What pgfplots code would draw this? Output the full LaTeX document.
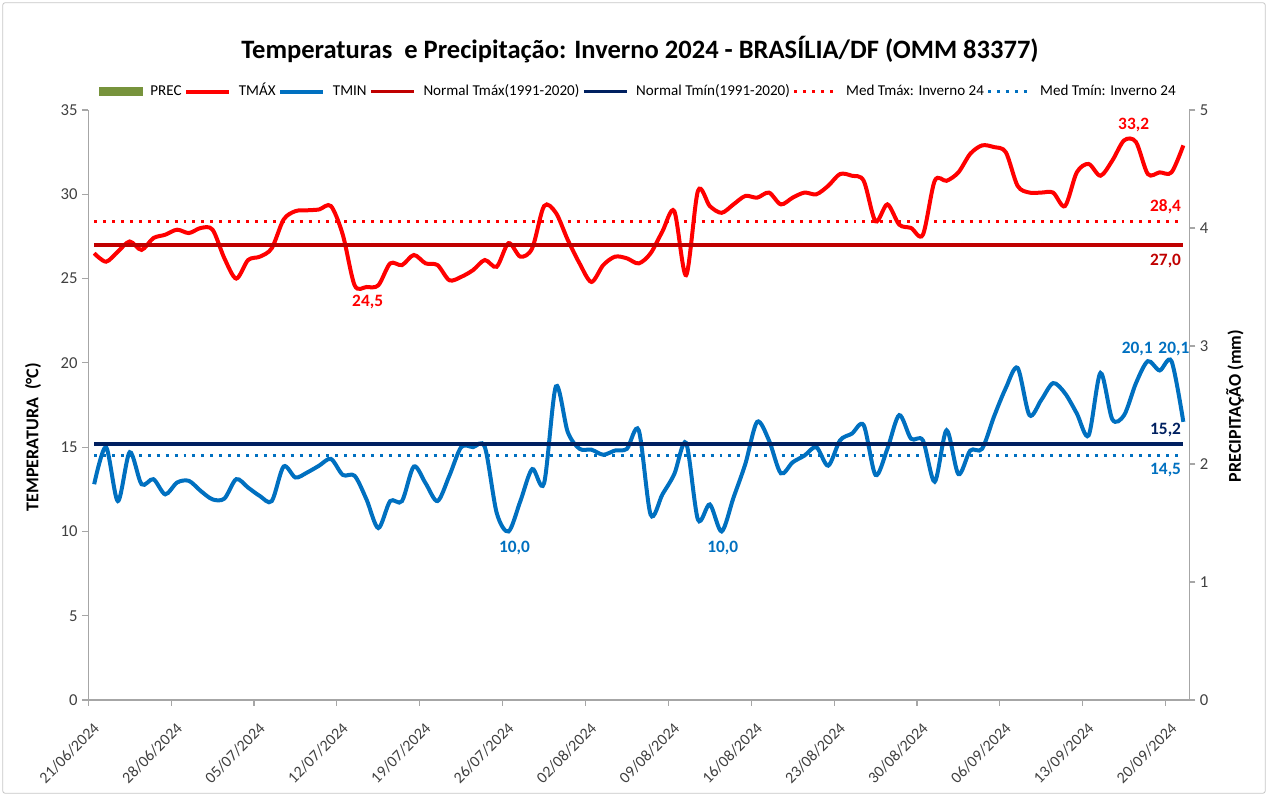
\documentclass[border=0pt]{standalone}
\usepackage{fontspec}
\setmainfont{Carlito}
\usepackage{pgfplots}
\usepackage{pgfplotstable}
\pgfplotsset{compat=1.18}
\definecolor{tmaxc}{HTML}{FF0000}
\definecolor{tminc}{HTML}{0070C0}
\definecolor{ntmax}{HTML}{C00000}
\definecolor{ntmin}{HTML}{002060}
\definecolor{precc}{HTML}{77933C}
\definecolor{axisgray}{HTML}{A6A6A6}
\definecolor{ticktext}{HTML}{404040}
\pgfplotstableread{
d tmax tmin
0 26.5 12.8
1 26.0 15.0
2 26.6 11.8
3 27.2 14.7
4 26.7 12.8
5 27.4 13.1
6 27.6 12.2
7 27.9 12.9
8 27.7 13.0
9 28.0 12.4
10 27.9 11.9
11 26.2 11.95
12 25.0 13.1
13 26.1 12.6
14 26.3 12.1
15 26.8 11.8
16 28.5 13.85
17 29.0 13.2
18 29.05 13.5
19 29.1 13.9
20 29.3 14.3
21 27.6 13.35
22 24.6 13.3
23 24.5 11.9
24 24.6 10.2
25 25.9 11.8
26 25.8 11.8
27 26.4 13.85
28 25.9 12.85
29 25.8 11.8
30 24.9 13.3
31 25.1 15.0
32 25.5 15.0
33 26.1 15.0
34 25.7 11.1
35 27.1 10.0
36 26.3 11.8
37 26.8 13.7
38 29.3 12.85
39 28.9 18.6
40 27.3 15.9
41 25.9 14.9
42 24.8 14.85
43 25.8 14.55
44 26.3 14.8
45 26.2 14.9
46 25.9 16.0
47 26.5 11.0
48 27.8 12.2
49 29.0 13.4
50 25.2 15.25
51 30.2 10.7
52 29.3 11.6
53 28.9 10.0
54 29.4 12.0
55 29.9 14.0
56 29.8 16.5
57 30.1 15.4
58 29.4 13.45
59 29.8 14.1
60 30.1 14.5
61 30.0 15.0
62 30.5 13.9
63 31.2 15.4
64 31.1 15.8
65 30.8 16.3
66 28.4 13.35
67 29.4 14.9
68 28.2 16.9
69 28.0 15.5
70 27.6 15.4
71 30.8 12.95
72 30.8 16.0
73 31.3 13.4
74 32.4 14.8
75 32.9 14.9
76 32.8 16.8
77 32.5 18.5
78 30.5 19.7
79 30.1 16.9
80 30.1 17.8
81 30.1 18.8
82 29.3 18.2
83 31.3 17.0
84 31.8 15.7
85 31.1 19.4
86 32.0 16.65
87 33.2 16.9
88 33.1 18.8
89 31.2 20.1
90 31.3 19.55
91 31.3 20.1
92 32.9 16.5
}\tempdata
\begin{document}
\begin{tikzpicture}
\useasboundingbox (0,0) rectangle (951pt,597pt);
\draw[gray!45, line width=0.6pt, rounded corners=2pt] (2pt,2pt) rectangle (949pt,595pt);
\begin{axis}[
  at={(66.2pt,72pt)}, anchor=south west,
  scale only axis, width=825.75pt, height=442.5pt,
  xmin=0, xmax=93, ymin=0, ymax=35,
  axis x line*=bottom, axis y line*=left,
  axis line style={-, axisgray, line width=0.9pt},
  tick style={axisgray, line width=0.9pt}, tick align=outside, major tick length=4.5pt,
  xtick={0,7,...,91},
  xticklabels={21/06/2024,28/06/2024,05/07/2024,12/07/2024,19/07/2024,26/07/2024,02/08/2024,09/08/2024,16/08/2024,23/08/2024,30/08/2024,06/09/2024,13/09/2024,20/09/2024},
  xticklabel style={xshift=7pt, yshift=-14pt, rotate=45, anchor=east, font=\fontsize{12}{14}\selectfont, text=ticktext, inner sep=1pt},
  ytick={0,5,...,35},
  yticklabel style={font=\fontsize{12.5}{14}\selectfont, text=ticktext},
  /pgf/number format/assume math mode=true,
  legend columns=7,
  legend style={at={(0.5,1.0)}, yshift=13.5pt, anchor=center, draw=none, fill=none,
    font=\fontsize{11.3}{13}\selectfont, inner sep=0pt,
    nodes={text height=8.5pt, text depth=2.5pt, anchor=base},
    /tikz/every even column/.append style={column sep=0pt},
    /tikz/every odd column/.append style={column sep=4pt}},
  legend cell align=left,
  legend image code/.code={\draw[#1, sharp plot] (0pt,3.3pt) -- (32pt,3.3pt);},
]
\addlegendimage{legend image code/.code={\fill[precc] (0pt,0.3pt) rectangle (32pt,6.3pt);}}
\addlegendentry{PREC}
\addplot[tmaxc, line width=3pt, smooth, tension=0.5] table[x expr=\thisrow{d}+0.5, y=tmax] {\tempdata};
\addlegendentry{TMÁX}
\addplot[tminc, line width=3pt, smooth, tension=0.5] table[x expr=\thisrow{d}+0.5, y=tmin] {\tempdata};
\addlegendentry{TMIN}
\addplot[ntmax, line width=2.6pt] coordinates {(0.5,27.0) (92.5,27.0)};
\addlegendentry{Normal Tmáx(1991-2020)}
\addplot[ntmin, line width=2.6pt] coordinates {(0.5,15.2) (92.5,15.2)};
\addlegendentry{Normal Tmín(1991-2020)}
\addplot[tmaxc, line width=2.2pt, dash pattern=on 2.2pt off 4.5pt] coordinates {(0.5,28.4) (92.5,28.4)};
\addlegendentry{Med Tmáx: Inverno 24}
\addplot[tminc, line width=2.2pt, dash pattern=on 2.2pt off 4.5pt] coordinates {(0.5,14.5) (92.5,14.5)};
\addlegendentry{Med Tmín: Inverno 24}
\begin{scope}[every node/.style={font=\bfseries\fontsize{13}{15}\selectfont}]
\node[text=tmaxc] at (axis cs:23.6,23.6) {24,5};
\node[text=tminc] at (axis cs:36.0,9.0) {10,0};
\node[text=tminc] at (axis cs:53.6,9.0) {10,0};
\node[text=tmaxc] at (axis cs:88.3,34.1) {33,2};
\node[text=tminc] at (axis cs:88.6,20.8) {20,1};
\node[text=tminc] at (axis cs:91.7,20.8) {20,1};
\node[text=tmaxc] at (axis cs:91.0,29.25) {28,4};
\node[text=ntmax] at (axis cs:91.0,26.05) {27,0};
\node[text=ntmin] at (axis cs:91.0,16.0) {15,2};
\node[text=tminc] at (axis cs:91.0,13.65) {14,5};
\end{scope}
\end{axis}
\begin{axis}[
  at={(66.2pt,72pt)}, anchor=south west,
  scale only axis, width=825.75pt, height=442.5pt,
  xmin=0, xmax=93, ymin=0, ymax=5,
  axis x line=none, axis y line*=right,
  axis line style={-, axisgray, line width=0.9pt},
  tick style={axisgray, line width=0.9pt}, tick align=outside, major tick length=4.5pt,
  ytick={0,1,...,5},
  yticklabel style={font=\fontsize{12.5}{14}\selectfont, text=ticktext},
  /pgf/number format/assume math mode=true,
]
\addplot[draw=none, forget plot] coordinates {(0,0) (93,0)};
\end{axis}
\node[font=\bfseries\fontsize{19.9}{23}\selectfont] at (480pt,559.5pt) {Temperaturas\ \ e Precipitação: Inverno 2024 - BRASÍLIA/DF (OMM 83377)};
\node[font=\bfseries\fontsize{13.5}{15}\selectfont, rotate=90] at (24.75pt,269.25pt) {TEMPERATURA\ \ (°C)};
\node[font=\bfseries\fontsize{13.5}{15}\selectfont, rotate=90] at (926.25pt,292.5pt) {PRECIPITAÇÃO (mm)};
\end{tikzpicture}
\end{document}
